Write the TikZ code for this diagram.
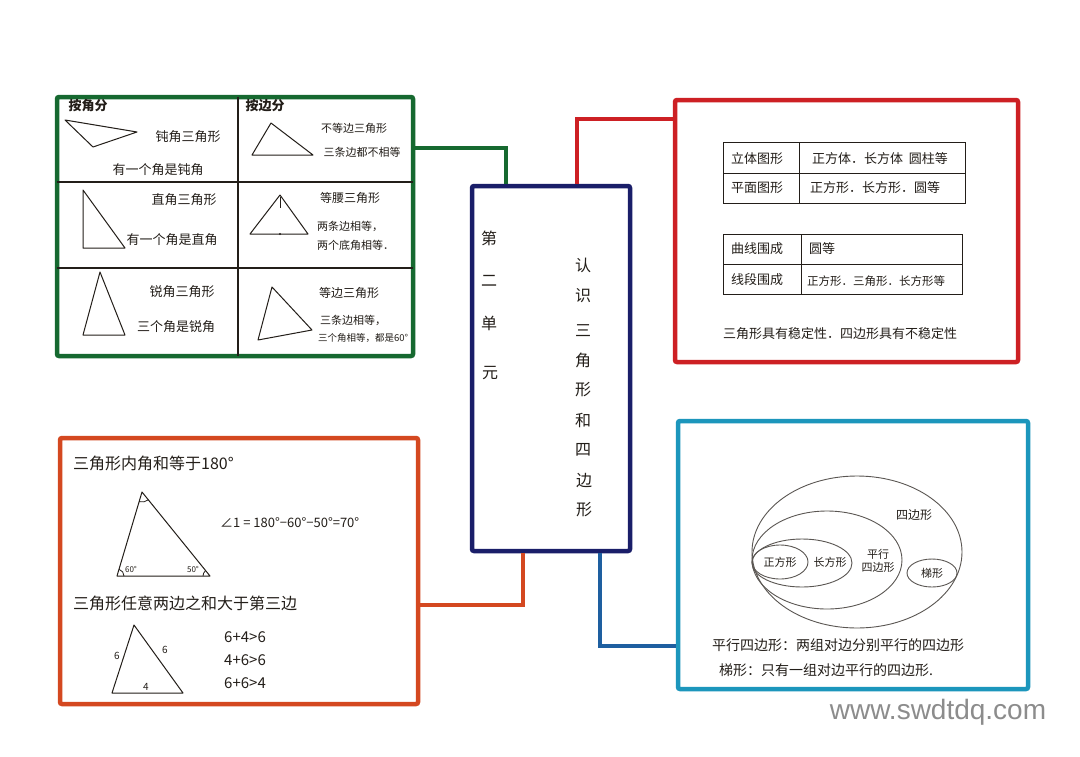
\documentclass[tikz,border=0pt]{standalone}
\usepackage{fontspec}
\setmainfont{Noto Sans CJK SC}
\newfontfamily\wmfont{Liberation Sans}
\definecolor{cgreen}{RGB}{22,105,48}
\definecolor{cred}{RGB}{205,32,36}
\definecolor{corange}{RGB}{212,72,32}
\definecolor{ccyan}{RGB}{28,150,188}
\definecolor{cblue}{RGB}{30,95,160}
\definecolor{cnavy}{RGB}{26,30,105}
\definecolor{ink}{RGB}{35,30,25}
\begin{document}
\begin{tikzpicture}[x=1pt,y=-1pt,
  frame/.style={draw=#1, line width=4.5pt, rounded corners=2pt, inner sep=0pt},
  link/.style={draw=#1, line width=4pt},
  txt/.style={font=\fontsize{#1}{#1}\selectfont, text=ink, inner sep=0pt},
  pen/.style={draw=ink, line width=1pt, line join=round},
  grid/.style={draw=ink, line width=1.1pt},
  loop/.style={draw=ink!75, line width=0.9pt},
]
\useasboundingbox[fill=white] (0,0) rectangle (1080,756);

% ---------- boxes ----------
\node[frame=cgreen, minimum width=356pt, minimum height=259pt] (gb) at (235,226.5) {};
\node[frame=cnavy, minimum width=158pt, minimum height=365pt] (mb) at (551,368.5) {};
\node[frame=cred, minimum width=343pt, minimum height=262pt] (rb) at (846.5,231) {};
\node[frame=corange, minimum width=358pt, minimum height=266pt] (ob) at (239,571) {};
\node[frame=ccyan, minimum width=350pt, minimum height=268pt] (cb) at (853,555) {};

% ---------- connectors ----------
\coordinate (gy) at (0,148);   \coordinate (gx) at (506,0);
\coordinate (ry) at (0,119);   \coordinate (rx) at (577,0);
\coordinate (oy) at (0,605);   \coordinate (ox) at (523,0);
\coordinate (cy) at (0,646);   \coordinate (cx) at (600,0);
\draw[link=cgreen] (gb.east |- gy) -| (mb.north -| gx);
\draw[link=cred] (rb.west |- ry) -| (mb.north -| rx);
\draw[link=corange] (ob.east |- oy) -| (mb.south -| ox);
\draw[link=cblue] (cb.west |- cy) -| (mb.south -| cx);

% ---------- central box text ----------
\node[txt=16] (m1) at (489,238) {第};
\node[txt=16] (m2) at (489,281) {二};
\node[txt=16] (m3) at (489,323) {单};
\node[txt=16] (m4) at (490,373) {元};
\node[txt=16] (n1) at (583,265) {认};
\node[txt=16] (n2) at (583,296) {识};
\node[txt=16] (n3) at (583,331) {三};
\node[txt=16] (n4) at (583,360) {角};
\node[txt=16] (n5) at (583,390) {形};
\node[txt=16] (n6) at (583,420) {和};
\node[txt=16] (n7) at (583,450) {四};
\node[txt=16] (n8) at (584,481) {边};
\node[txt=16] (n9) at (584,510) {形};

% ---------- green box ----------
\draw[grid] (238,97) -- (238,356);
\draw[grid] (57,182) -- (413,182);
\draw[grid] (57,268) -- (413,268);
\node[txt=13, font=\fontsize{13}{13}\selectfont\bfseries] (ga) at (88,106) {按角分};
\node[txt=13, font=\fontsize{13}{13}\selectfont\bfseries] (gs) at (265,106) {按边分};
% obtuse
\draw[pen] (65,120) -- (137,132) -- (93,147) -- cycle;
\node[txt=13] (g1) at (188,137) {钝角三角形};
\node[txt=13] (g2) at (158,170) {有一个角是钝角};
% scalene
\draw[pen] (252,155) -- (271,123) -- (313,155) -- cycle;
\node[txt=11] (g3) at (354,128) {不等边三角形};
\node[txt=11] (g4) at (362,152) {三条边都不相等};
% right
\draw[pen] (83,190) -- (83,248) -- (125,248) -- cycle;
\node[txt=13] (g5) at (184,200) {直角三角形};
\node[txt=13] (g6) at (172,240) {有一个角是直角};
% isosceles
\draw[pen] (280,195) -- (250,234) -- (308,234) -- cycle;
\draw[pen, line width=0.7pt] (280,197) -- (280,208);
\fill[ink] (280,234) circle[radius=1.1pt];
\node[txt=12] (g7) at (350,198) {等腰三角形};
\node[txt=11, anchor=west] (g8) at (317,226) {两条边相等，};
\node[txt=11, anchor=west] (g9) at (317,245) {两个底角相等．};
% acute
\draw[pen] (100,272) -- (83,335) -- (125,335) -- cycle;
\node[txt=13] (g10) at (182,292) {锐角三角形};
\node[txt=13] (g11) at (176,327) {三个角是锐角};
% equilateral
\draw[pen] (272,287) -- (258,340) -- (312,330) -- cycle;
\node[txt=12] (g12) at (349,293) {等边三角形};
\node[txt=11, anchor=west] (g13) at (320,320) {三条边相等，};
\node[txt=9.5, anchor=west] (g14) at (318,338) {三个角相等，都是60°};

% ---------- red box ----------
\draw[grid, line width=0.9pt] (723,142) rectangle (965,203);
\draw[grid, line width=0.9pt] (723,173) -- (965,173);
\draw[grid, line width=0.9pt] (799,142) -- (799,203);
\node[txt=13] (r1) at (757,159) {立体图形};
\node[txt=13] (r2) at (880,159) {正方体．长方体\ \ 圆柱等};
\node[txt=13] (r3) at (757,188) {平面图形};
\node[txt=13] (r4) at (875,188) {正方形．长方形．圆等};
\draw[grid, line width=0.9pt] (723,234) rectangle (962,294);
\draw[grid, line width=0.9pt] (723,264) -- (962,264);
\draw[grid, line width=0.9pt] (801,234) -- (801,294);
\node[txt=13] (r5) at (757,249) {曲线围成};
\node[txt=13] (r6) at (822,249) {圆等};
\node[txt=13] (r7) at (757,280) {线段围成};
\node[txt=11.5, anchor=west] (r8) at (807,281) {正方形．三角形．长方形等};
\node[txt=13] (r9) at (840,334) {三角形具有稳定性．四边形具有不稳定性};

% ---------- orange box ----------
\node[txt=16, anchor=west] (o1) at (73,463) {三角形内角和等于180°};
\draw[pen] (142,492) -- (117,576) -- (210,576) -- cycle;
\draw[pen, line width=0.8pt] (148.3,499.8) arc[start angle=51, end angle=107, radius=10];
\draw[pen, line width=0.8pt] (124,576) arc[start angle=0, end angle=-73, radius=7];
\draw[pen, line width=0.8pt] (203,576) arc[start angle=-180, end angle=-129, radius=7];
\node[txt=8] (o2) at (131,569) {60°};
\node[txt=8] (o3) at (193,569) {50°};
\node[txt=13, anchor=west] (o4) at (220,523) {∠1 = 180°−60°−50°=70°};
\node[txt=16, anchor=west] (o5) at (73,603) {三角形任意两边之和大于第三边};
\draw[pen] (134,625) -- (112,693) -- (183,693) -- cycle;
\node[txt=10] (o6) at (117,656) {6};
\node[txt=10] (o7) at (165,650) {6};
\node[txt=10] (o8) at (146,687) {4};
\node[txt=15, anchor=west] (o9) at (224,637) {6+4>6};
\node[txt=15, anchor=west] (o10) at (224,660) {4+6>6};
\node[txt=15, anchor=west] (o11) at (224,683) {6+6>4};

% ---------- cyan box ----------
\draw[loop] (857,552) ellipse[x radius=105pt, y radius=76pt];
\draw[loop] (827,560) ellipse[x radius=75pt, y radius=49pt];
\draw[loop] (802,563) ellipse[x radius=50pt, y radius=24pt];
\draw[loop] (780,562) ellipse[x radius=28pt, y radius=17pt];
\draw[loop] (932,573) ellipse[x radius=25pt, y radius=14pt];
\node[txt=12] (c1) at (914,515) {四边形};
\node[txt=11] (c2) at (780,562) {正方形};
\node[txt=11] (c3) at (830,562) {长方形};
\node[txt=11, align=center, font=\fontsize{11}{13}\selectfont] (c4) at (878,561) {平行\\四边形};
\node[txt=11] (c5) at (932,573) {梯形};
\node[txt=14, anchor=west] (c6) at (712,645) {平行四边形：两组对边分别平行的四边形};
\node[txt=14, anchor=west] (c7) at (719,670) {梯形：只有一组对边平行的四边形.};

% ---------- watermark ----------
\node[inner sep=0pt, text=black!45, font=\wmfont\fontsize{28}{28}\selectfont] (wm) at (938,712) {www.swdtdq.com};
\end{tikzpicture}
\end{document}
